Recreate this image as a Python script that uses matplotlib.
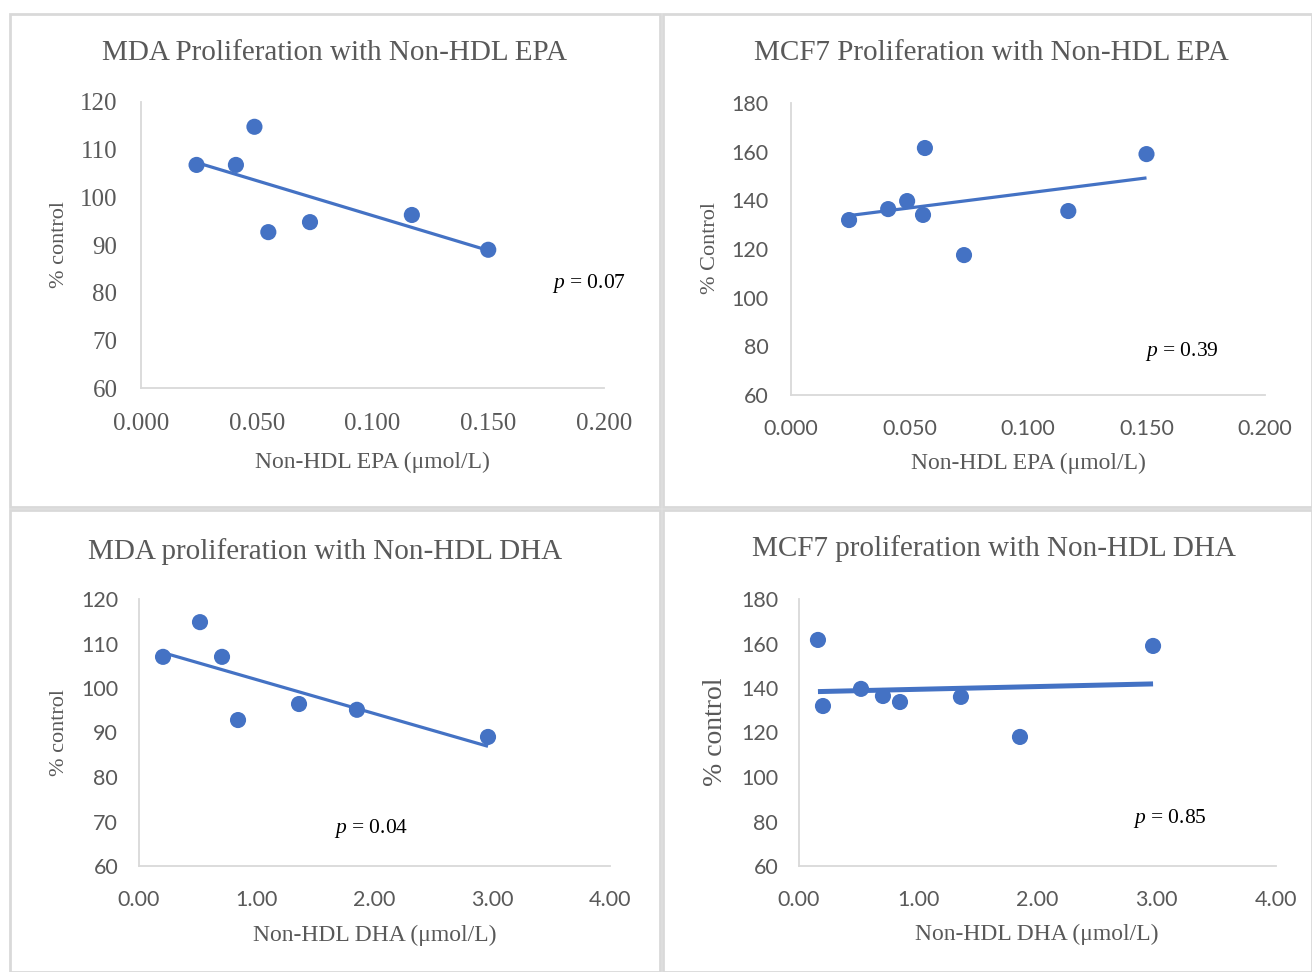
import numpy as np
import matplotlib
matplotlib.use("Agg")
import matplotlib.pyplot as plt
from matplotlib.patches import Rectangle

W, H = 1312, 972

# ---------------- data ----------------
mda_epa_x = [0.024, 0.041, 0.049, 0.055, 0.073, 0.117, 0.150]
mda_epa_y = [106.8, 106.8, 114.8, 92.7, 94.8, 96.3, 89.0]
mcf7_epa_x = [0.0245, 0.041, 0.049, 0.0557, 0.0565, 0.073, 0.117, 0.150]
mcf7_epa_y = [131.9, 136.4, 139.7, 134.0, 161.5, 117.5, 135.6, 159.0]
mda_dha_x = [0.204, 0.518, 0.705, 0.841, 1.359, 1.851, 2.964]
mda_dha_y = [107.0, 114.8, 107.0, 92.8, 96.4, 95.1, 89.0]
mcf7_dha_x = [0.159, 0.201, 0.520, 0.704, 0.847, 1.358, 1.853, 2.969]
mcf7_dha_y = [161.6, 131.9, 139.6, 136.4, 133.7, 136.0, 118.0, 158.9]

titles = ["MDA Proliferation with Non-HDL EPA", "MCF7 Proliferation with Non-HDL EPA",
          "MDA proliferation with Non-HDL DHA", "MCF7 proliferation with Non-HDL DHA"]
xlabels = ["Non-HDL EPA (\u03bcmol/L)", "Non-HDL EPA (\u03bcmol/L)",
           "Non-HDL DHA (\u03bcmol/L)", "Non-HDL DHA (\u03bcmol/L)"]
ylabels = ["% control", "% Control", "% control", "% control"]
p_texts = ["0.07", "0.39", "0.04", "0.85"]
epa_ticks = [0.000, 0.050, 0.100, 0.150, 0.200]
dha_ticks = [0.00, 1.00, 2.00, 3.00, 4.00]
mda_yticks = [60, 70, 80, 90, 100, 110, 120]
mcf7_yticks = [60, 80, 100, 120, 140, 160, 180]

# ---------------- style ----------------
plt.rcParams['mathtext.fontset'] = 'custom'
plt.rcParams['mathtext.it'] = 'Liberation Serif:italic'
plt.rcParams['mathtext.rm'] = 'Liberation Serif'
SERIF = 'Liberation Serif'
SANS = 'Lato'
GRAY = '#595959'
AX = '#d9d9d9'
BLUE = '#4472C4'

fig = plt.figure(figsize=(W / 100, H / 100), dpi=100)
fig.patch.set_facecolor('white')

def fx(x):
    return x / W

def fy(y):
    return 1 - y / H

# panel borders
for (l, t, r, b) in [(10, 14, 660, 507), (663, 14, 1312, 507),
                     (10, 510, 660, 972), (663, 510, 1312, 972)]:
    fig.patches.append(Rectangle((fx(l), fy(b)), fx(r - l), (b - t) / H,
                                 transform=fig.transFigure, fill=False,
                                 edgecolor='#d9d9d9', linewidth=2.0))

panels = [
    dict(x=mda_epa_x, y=mda_epa_y, box=(141, 102, 604, 388), xt=epa_ticks, fmt="{:.3f}",
         yt=mda_yticks, tickfont=SERIF, tsize=18, lw=2.3, xpad=18, ypad=17,
         title_xy=(334, 53), xl_xy=(372, 462), yl_xy=(59, 245), ylsize=16,
         p_xy=(552, 283)),
    dict(x=mcf7_epa_x, y=mcf7_epa_y, box=(791, 103, 1265, 395), xt=epa_ticks, fmt="{:.3f}",
         yt=mcf7_yticks, tickfont=SANS, tsize=15.5, lw=2.3, xpad=17, ypad=16,
         title_xy=(991, 53), xl_xy=(1028, 463), yl_xy=(711, 248), ylsize=16,
         p_xy=(1145, 351)),
    dict(x=mda_dha_x, y=mda_dha_y, box=(139, 599, 610, 866), xt=dha_ticks, fmt="{:.2f}",
         yt=mda_yticks, tickfont=SANS, tsize=15.5, lw=2.3, xpad=17, ypad=15,
         title_xy=(325, 552), xl_xy=(375, 935), yl_xy=(59, 732), ylsize=16,
         p_xy=(334, 828)),
    dict(x=mcf7_dha_x, y=mcf7_dha_y, box=(799, 599, 1276, 866), xt=dha_ticks, fmt="{:.2f}",
         yt=mcf7_yticks, tickfont=SANS, tsize=15.5, lw=3.6, xpad=17, ypad=15,
         title_xy=(994, 549), xl_xy=(1037, 934), yl_xy=(715, 732), ylsize=20,
         p_xy=(1133, 818)),
]

for i, p in enumerate(panels):
    l, t, r, b = p['box']
    ax = fig.add_axes([fx(l), fy(b), (r - l) / W, (b - t) / H])
    ax.set_facecolor('none')
    xs = np.array(p['x'])
    ys = np.array(p['y'])
    # trendline (least squares fit)
    k, c = np.polyfit(xs, ys, 1)
    xl = np.array([xs.min(), xs.max()])
    ax.plot(xl, k * xl + c, color=BLUE, linewidth=p['lw'], solid_capstyle='butt', zorder=2)
    ax.scatter(xs, ys, s=135, color=BLUE, edgecolors='none', zorder=3)
    ax.set_xlim(p['xt'][0], p['xt'][-1])
    ax.set_ylim(p['yt'][0], p['yt'][-1])
    ax.set_xticks(p['xt'])
    ax.set_xticklabels([p['fmt'].format(v) for v in p['xt']])
    ax.set_yticks(p['yt'])
    ax.set_yticklabels([str(v) for v in p['yt']])
    for s in ['top', 'right']:
        ax.spines[s].set_visible(False)
    for s in ['left', 'bottom']:
        ax.spines[s].set_color(AX)
        ax.spines[s].set_linewidth(1.3)
    ax.tick_params(axis='both', length=0, colors=GRAY)
    ax.tick_params(axis='x', pad=p['xpad'])
    ax.tick_params(axis='y', pad=p['ypad'])
    for lab in ax.get_xticklabels() + ax.get_yticklabels():
        lab.set_fontfamily(p['tickfont'])
        lab.set_fontsize(p['tsize'])
        lab.set_color(GRAY)

    fig.text(fx(p['title_xy'][0]), fy(p['title_xy'][1]), titles[i], ha='center', va='center',
             fontsize=21, family=SERIF, color=GRAY)
    fig.text(fx(p['xl_xy'][0]), fy(p['xl_xy'][1]), xlabels[i], ha='center', va='center',
             fontsize=17, family=SERIF, color=GRAY)
    fig.text(fx(p['yl_xy'][0]), fy(p['yl_xy'][1]), ylabels[i], ha='center', va='center',
             rotation=90, fontsize=p['ylsize'], family=SERIF, color=GRAY)
    fig.text(fx(p['p_xy'][0]), fy(p['p_xy'][1]), "$p$ = " + p_texts[i], ha='left', va='center',
             fontsize=15.5, family=SERIF, color='black')

fig.savefig('out.png', dpi=100, facecolor='white')
